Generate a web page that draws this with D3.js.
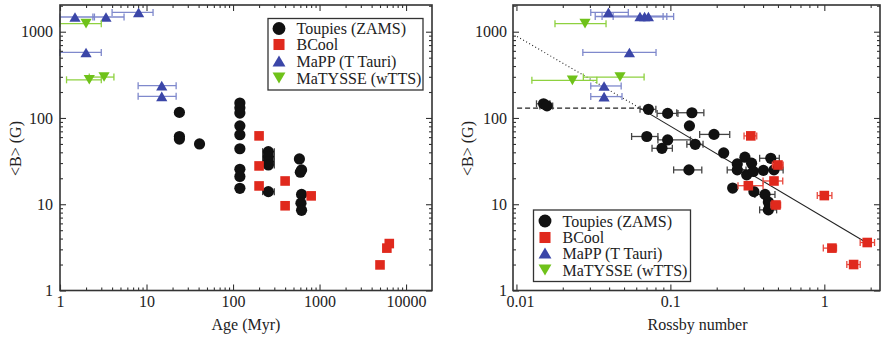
<!DOCTYPE html>
<html>
<head>
<meta charset="utf-8">
<script src="https://cdn.jsdelivr.net/npm/d3@7"></script>
<style>
  body { margin: 0; background: #fff; }
  svg text { font-family: "Liberation Serif", "Times New Roman", serif; fill: #222; }
</style>
</head>
<body>
<div id="chart"></div>
<script>
// ---- data: [x, B, xLow, xHigh] (error limits optional) ----
const seriesNames = ["Toupies (ZAMS)", "BCool", "MaPP (T Tauri)", "MaTYSSE (wTTS)"];

// left panel: age (Myr) vs <B> (G)
const toupiesAge = [
  [24, 116], [24, 61], [24, 57], [41, 50],
  [120, 149], [120, 131], [120, 114], [120, 81], [120, 64], [120, 44],
  [120, 25.4], [120, 21], [120, 15.3],
  [256, 40.7, 220, 300], [256, 35.6, 220, 300], [256, 31.2, 220, 300],
  [256, 28.5, 220, 300], [256, 14, 220, 300],
  [585, 33.5], [620, 25], [600, 23.5], [620, 13], [610, 10.3], [620, 8.5]
];
const bcoolAge = [
  [200, 62], [200, 27.8], [200, 16.3], [400, 18.6], [400, 9.6],
  [800, 12.5], [5000, 1.98], [6000, 3.1], [6400, 3.5]
];
const mappAge = [
  [1.49, 1480, 1.0, 2.5], [3.4, 1480, 2.4, 5.5], [8.1, 1675, 4.0, 11.9],
  [2.0, 575, 1.0, 3.0], [15, 237, 8, 22], [15, 178, 8, 22]
];
const matysseAge = [
  [2.0, 1240, 1.0, 3.0], [2.18, 277, 1.19, 3.0], [3.23, 298, 2.18, 4.2]
];

// right panel: Rossby number vs <B> (G)
const toupiesRo = [
  [0.0150, 146, 0.0135, 0.0165], [0.0158, 138, 0.0142, 0.0172],
  [0.072, 126, 0.0635, 0.0805], [0.096, 113, 0.082, 0.112], [0.138, 115, 0.110, 0.165],
  [0.133, 81], [0.0703, 61, 0.056, 0.083], [0.096, 55.6, 0.083, 0.135],
  [0.0882, 44.5, 0.076, 0.103], [0.145, 49.5, 0.128, 0.163], [0.192, 64.5, 0.155, 0.243],
  [0.222, 39.3], [0.132, 25, 0.105, 0.16], [0.305, 35.1], [0.272, 29.3],
  [0.337, 29.9], [0.272, 25, 0.234, 0.31], [0.313, 21.9], [0.346, 24], [0.402, 24.7],
  [0.471, 25, 0.40, 0.54], [0.449, 34.1, 0.38, 0.51], [0.254, 15.4], [0.349, 14],
  [0.412, 13, 0.354, 0.478], [0.433, 10.6], [0.44, 9.8], [0.433, 8.6, 0.38, 0.49]
];
const bcoolRo = [
  [0.333, 62, 0.301, 0.364], [0.321, 16.4, 0.275, 0.40], [0.471, 18.6, 0.40, 0.537],
  [0.50, 28.5, 0.46, 0.54], [0.485, 9.8, 0.45, 0.52], [1.0, 12.6, 0.90, 1.12],
  [1.90, 3.6, 1.71, 2.12], [1.12, 3.1, 0.985, 1.2], [1.55, 2.0, 1.40, 1.71]
];
const mappRo = [
  [0.0396, 1675, 0.0304, 0.0533], [0.0635, 1500, 0.0325, 0.0897],
  [0.068, 1500, 0.036, 0.0948], [0.072, 1500, 0.0425, 0.105],
  [0.0542, 575, 0.027, 0.0807], [0.0371, 235, 0.0304, 0.0479],
  [0.0371, 177, 0.0304, 0.0485]
];
const matysseRo = [
  [0.0279, 1240, 0.0178, 0.0382], [0.0231, 273, 0.0126, 0.0333],
  [0.0471, 298, 0.0272, 0.0675]
];

// fitted relations drawn in the right panel
const saturationLine = [[0.0101, 130], [0.0635, 130]];
const powerLawLine = [[0.0635, 130], [1.92, 3.5]];
const powerLawExtension = [[0.0101, 880], [0.0635, 130]];

// tick labels
const ageTicks = [1, 10, 100, 1000, 10000];
const roTicks = [0.01, 0.1, 1];
const bTicks = [1, 10, 100, 1000];

// ---- drawing ----
const colors = { black: "#111", red: "#e0291d", blue: "#3b46a8", green: "#6fc21a" };
const errColors = { black: "#444", red: "#e8473c", blue: "#7f89cc", green: "#8ed13f" };

const svg = d3.select("#chart").append("svg")
  .attr("width", 884)
  .attr("height", 338);

function logMinors(domain) {
  const out = [];
  const lo = Math.floor(Math.log10(domain[0])), hi = Math.ceil(Math.log10(domain[1]));
  for (let d = lo; d <= hi; d++) {
    for (let m = 2; m <= 9; m++) {
      const v = m * Math.pow(10, d);
      if (v > domain[0] && v < domain[1]) out.push(v);
    }
  }
  return out;
}

function marker(g, type, cx, cy, s) {
  if (type === "circle") {
    g.append("circle").attr("cx", cx).attr("cy", cy).attr("r", 5.6 * s).attr("fill", colors.black);
  } else if (type === "square") {
    const h = 4.8 * s;
    g.append("rect").attr("x", cx - h).attr("y", cy - h).attr("width", 2 * h).attr("height", 2 * h)
      .attr("fill", colors.red);
  } else if (type === "up") {
    const w = 5.6 * s, h = 4.8 * s;
    g.append("path").attr("d", `M${cx},${cy - h}L${cx + w},${cy + h}L${cx - w},${cy + h}Z`)
      .attr("fill", colors.blue);
  } else {
    const w = 5.6 * s, h = 4.8 * s;
    g.append("path").attr("d", `M${cx},${cy + h}L${cx + w},${cy - h}L${cx - w},${cy - h}Z`)
      .attr("fill", colors.green);
  }
}

function panel(cfg) {
  const x = d3.scaleLog().domain(cfg.xDomain).range([cfg.left, cfg.right]);
  const y = d3.scaleLog().domain([1, 2040]).range([290.5, 5]);
  const g = svg.append("g");

  // fit lines (right panel only)
  (cfg.lines || []).forEach(l => {
    g.append("path")
      .attr("d", d3.line().x(d => x(d[0])).y(d => y(d[1]))(l.data))
      .attr("fill", "none")
      .attr("stroke", "#222")
      .attr("stroke-width", l.width)
      .attr("stroke-dasharray", l.dash);
  });

  // error bars then markers for each series
  cfg.series.forEach(s => {
    const eb = g.append("g").attr("stroke", errColors[s.color]).attr("stroke-width", 1.3);
    s.data.filter(d => d.length > 2).forEach(d => {
      const yy = y(d[1]), x0 = Math.max(x(d[2]), cfg.left), x1 = x(d[3]);
      eb.append("line").attr("x1", x0).attr("x2", x1).attr("y1", yy).attr("y2", yy);
      eb.append("line").attr("x1", x0).attr("x2", x0).attr("y1", yy - 3.5).attr("y2", yy + 3.5);
      eb.append("line").attr("x1", x1).attr("x2", x1).attr("y1", yy - 3.5).attr("y2", yy + 3.5);
    });
    const mk = g.append("g");
    s.data.forEach(d => marker(mk, s.type, x(d[0]), y(d[1]), 1));
  });

  // axes with inward ticks on all four sides
  const minorX = logMinors(cfg.xDomain), minorY = logMinors([1, 2040]);
  const fmt = d => String(d);
  const axes = [
    { ax: d3.axisBottom(x).tickValues(cfg.xTicks).tickFormat(fmt).tickSize(-6).tickPadding(5), t: `translate(0,290.5)`, main: "x" },
    { ax: d3.axisBottom(x).tickValues(minorX).tickFormat("").tickSize(-3), t: `translate(0,290.5)` },
    { ax: d3.axisTop(x).tickValues(cfg.xTicks).tickFormat("").tickSize(-6), t: `translate(0,5)` },
    { ax: d3.axisTop(x).tickValues(minorX).tickFormat("").tickSize(-3), t: `translate(0,5)` },
    { ax: d3.axisLeft(y).tickValues(bTicks).tickFormat(fmt).tickSize(-6).tickPadding(cfg.yPad), t: `translate(${cfg.left},0)` },
    { ax: d3.axisLeft(y).tickValues(minorY).tickFormat("").tickSize(-3), t: `translate(${cfg.left},0)` },
    { ax: d3.axisRight(y).tickValues(bTicks).tickFormat("").tickSize(-6), t: `translate(${cfg.right},0)` },
    { ax: d3.axisRight(y).tickValues(minorY).tickFormat("").tickSize(-3), t: `translate(${cfg.right},0)` }
  ];
  axes.forEach(a => {
    const ag = g.append("g").attr("transform", a.t).call(a.ax);
    ag.select(".domain").remove();
    ag.selectAll("line").attr("stroke", "#333").attr("stroke-width", 1.1);
    ag.selectAll("text").attr("font-size", 16).attr("font-family", null).attr("fill", "#222");
    if (a.main === "x" && cfg.firstLabelDx) {
      ag.selectAll("text").filter((d, i) => i === 0).attr("dx", cfg.firstLabelDx);
    }
  });

  g.append("rect")
    .attr("x", cfg.left).attr("y", 5)
    .attr("width", cfg.right - cfg.left).attr("height", 285.5)
    .attr("fill", "none").attr("stroke", "#333").attr("stroke-width", 1.6);

  // axis titles
  g.append("text")
    .attr("transform", `translate(${cfg.yTitleX},148.5) rotate(-90)`)
    .attr("text-anchor", "middle").attr("font-size", 16)
    .text("<B> (G)");
  g.append("text")
    .attr("x", (cfg.left + cfg.right) / 2 + cfg.xTitleShift).attr("y", 330)
    .attr("text-anchor", "middle").attr("font-size", 16)
    .text(cfg.xTitle);

  // legend
  const L = cfg.legend;
  const lg = g.append("g");
  lg.append("rect").attr("x", L.x).attr("y", L.y).attr("width", L.w).attr("height", L.h)
    .attr("fill", "#fff").attr("stroke", "#333").attr("stroke-width", 1.3);
  cfg.series.forEach((s, i) => {
    const cy = L.rowY[i];
    marker(lg, s.type, L.mx, cy, 1.15);
    lg.append("text").attr("x", L.tx).attr("y", cy + 5.5).attr("font-size", 16).text(seriesNames[i]);
  });
}

panel({
  left: 60, right: 432, xDomain: [1, 19950], xTicks: ageTicks, yPad: 7,
  yTitleX: 21, xTitle: "Age (Myr)", xTitleShift: 0,
  series: [
    { data: toupiesAge, type: "circle", color: "black" },
    { data: bcoolAge, type: "square", color: "red" },
    { data: mappAge, type: "up", color: "blue" },
    { data: matysseAge, type: "down", color: "green" }
  ],
  legend: { x: 268, y: 18.5, w: 155, h: 71.5, mx: 279, tx: 296.5, rowY: [28.5, 44.5, 61, 78] }
});

panel({
  left: 513, right: 880, xDomain: [0.0095, 2.3], xTicks: roTicks, yPad: 6,
  yTitleX: 473, xTitle: "Rossby number", xTitleShift: 1, firstLabelDx: 3.5,
  lines: [
    { data: saturationLine, width: 1.2, dash: "5,3" },
    { data: powerLawExtension, width: 1.1, dash: "1,2.5" },
    { data: powerLawLine, width: 1.1, dash: null }
  ],
  series: [
    { data: toupiesRo, type: "circle", color: "black" },
    { data: bcoolRo, type: "square", color: "red" },
    { data: mappRo, type: "up", color: "blue" },
    { data: matysseRo, type: "down", color: "green" }
  ],
  legend: { x: 533.5, y: 210, w: 157, h: 71.5, mx: 545, tx: 562.5, rowY: [221, 237.5, 253, 270] }
});
</script>
</body>
</html>
